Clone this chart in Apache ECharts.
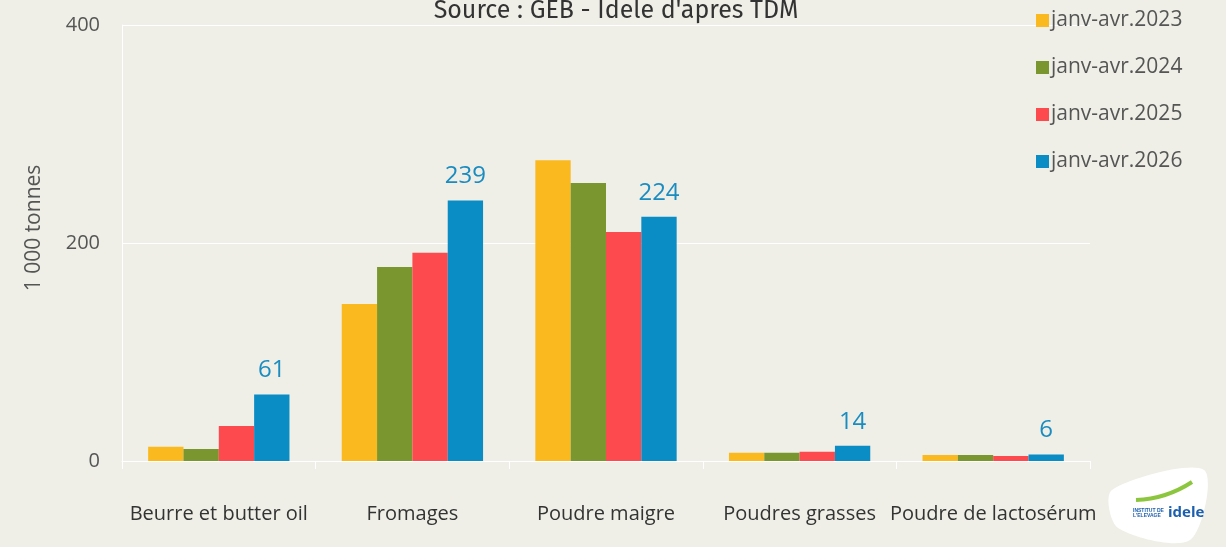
<!DOCTYPE html>
<html>
<head>
<meta charset="utf-8">
<script src="https://cdn.jsdelivr.net/npm/echarts@6/dist/echarts.min.js"></script>
<style>
  html, body { margin: 0; padding: 0; background: #efefe7; }
  #chart { width: 1226px; height: 547px; }
</style>
</head>
<body>
<div id="chart"></div>
<script>
// categories and values (1 000 tonnes)
const categories = ['Beurre et butter oil', 'Fromages', 'Poudre maigre', 'Poudres grasses', 'Poudre de lactosérum'];
const seriesNames = ['janv-avr.2023', 'janv-avr.2024', 'janv-avr.2025', 'janv-avr.2026'];
const values2023 = [13, 144, 276, 7.5, 5.5];
const values2024 = [11, 178, 255, 7.5, 5.5];
const values2025 = [32, 191, 210, 8.5, 4.5];
const values2026 = [61, 239, 224, 14, 6];
const yTicks = [0, 200, 400];

const colors = ['#fbb920', '#7a962e', '#fd4a4f', '#0a8cc4'];
const allValues = [values2023, values2024, values2025, values2026];
const font = '"Open Sans", "Noto Sans", sans-serif';
const titleFont = 'Fira Sans, "Open Sans", sans-serif';

const chart = echarts.init(document.getElementById('chart'));

const series = allValues.map((vals, i) => ({
  name: seriesNames[i],
  type: 'bar',
  data: vals,
  barGap: '0%',
  barCategoryGap: '27%',
  itemStyle: { color: colors[i] },
  label: {
    show: i === 3,
    position: 'top',
    distance: 12,
    color: '#1a8cc0',
    fontSize: 24,
    fontFamily: font
  }
}));

chart.setOption({
  backgroundColor: '#efefe7',
  title: {
    text: 'Source : GEB - Idele d\'apres TDM',
    left: 611,
    textAlign: 'center',
    top: -6,
    textStyle: { color: '#333', fontSize: 25, fontWeight: 'normal', fontFamily: titleFont }
  },
  legend: {
    orient: 'vertical',
    left: 1031,
    top: 5,
    itemWidth: 13,
    itemHeight: 13,
    itemGap: 26,
    icon: 'rect',
    textStyle: { color: '#555', fontSize: 21, fontFamily: font, padding: [0, 0, 0, -3] },
    data: seriesNames
  },
  grid: { left: 122, right: 136, top: 25, bottom: 86, containLabel: false },
  xAxis: {
    type: 'category',
    data: categories,
    axisLine: { lineStyle: { color: '#ffffff', width: 1 } },
    axisTick: { show: true, length: 8, lineStyle: { color: '#ffffff' } },
    axisLabel: { color: '#333', fontSize: 20, margin: 43, interval: 0, fontFamily: font }
  },
  yAxis: {
    type: 'value',
    min: yTicks[0],
    max: yTicks[yTicks.length - 1],
    interval: 200,
    name: '1 000 tonnes',
    nameLocation: 'middle',
    nameGap: 77,
    nameTextStyle: { color: '#555', fontSize: 21, fontFamily: font, padding: [0, 0, 0, 30] },
    axisLine: { show: true, lineStyle: { color: '#ffffff' } },
    axisTick: { show: false },
    splitLine: { lineStyle: { color: '#ffffff', width: 1 } },
    axisLabel: { color: '#555', fontSize: 20, margin: 22, fontFamily: font }
  },
  graphic: [
    {
      type: 'polygon',
      shape: { points: [[1112, 490], [1204, 470], [1190, 540], [1118, 528]], smooth: 0.3 },
      style: { fill: '#ffffff' }
    },
    {
      type: 'text',
      left: 1168, top: 505,
      style: { text: 'idele', fill: '#1b5fae', font: 'bold 15px "Open Sans", sans-serif' }
    },
    {
      type: 'text',
      left: 1133, top: 508,
      style: { text: 'INSTITUT DE\nL\'ELEVAGE', fill: '#1b5fae', font: 'bold 5px sans-serif' }
    },
    {
      type: 'polyline',
      shape: { points: [[1136, 500], [1165, 495], [1192, 482]], smooth: 0.5 },
      style: { stroke: '#8cc63f', lineWidth: 4 }
    }
  ],
  series: series
});
</script>
</body>
</html>
